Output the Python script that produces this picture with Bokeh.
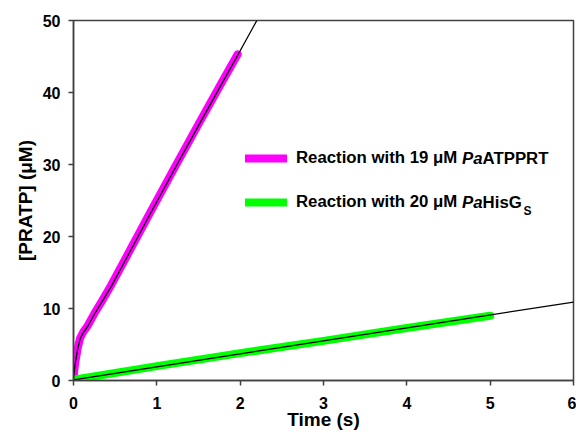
from bokeh.plotting import figure
from bokeh.models import Legend, LegendItem, Label, Range1d
from bokeh.embed import file_html
from bokeh.resources import INLINE

# ---- data ----
MAG_T = [0, 0.01, 0.02, 0.03, 0.05, 0.08, 0.12, 0.17, 0.25, 0.35, 0.45, 0.65, 0.9, 1.2, 1.5, 1.75, 1.97]
MAG_Y = [0, 1.5, 2.4, 3.1, 4.5, 5.9, 6.8, 7.6, 9.3, 11.2, 13.2, 17.5, 22.9, 29.3, 35.6, 40.8, 45.3]
MAG_FIT_T = [0, 0.01, 0.02, 0.03, 0.05, 0.08, 0.12, 0.17, 0.25, 0.35, 0.45, 0.65, 0.9, 1.2, 1.5, 1.75, 2.0, 2.2]
MAG_FIT_Y = [0, 1.4, 2.3, 3.0, 4.4, 5.8, 6.7, 7.5, 9.2, 11.1, 13.0, 17.3, 22.7, 29.1, 35.4, 40.6, 45.8, 50.0]
GRN_T = [0, 1, 2, 3, 4, 5]
GRN_Y = [0.1, 2.0, 3.8, 5.5, 7.3, 9.0]
GRN_FIT_T = [0, 6]
GRN_FIT_Y = [0.1, 10.9]
X_TICKS = [0, 1, 2, 3, 4, 5, 6]
Y_TICKS = [0, 10, 20, 30, 40, 50]
LEG1 = ["Reaction with 19 \u03bcM ", "Pa", "ATPPRT"]
LEG2 = ["Reaction with 20 \u03bcM ", "Pa", "HisG", "S"]

FONT = "Liberation Sans"
AX = "#404040"

p = figure(width=576, height=433, x_range=Range1d(0, 6), y_range=Range1d(0, 50),
           output_backend="svg", toolbar_location=None,
           min_border_left=73, min_border_right=3, min_border_top=20, min_border_bottom=53)
p.grid.visible = False
p.outline_line_color = AX
p.outline_line_width = 1.5
p.background_fill_color = "white"
p.border_fill_color = "white"

for ax in (p.xaxis, p.yaxis):
    ax.axis_line_color = AX
    ax.axis_line_width = 1.5
    ax.major_tick_line_color = AX
    ax.major_tick_line_width = 1.5
    ax.major_tick_in = 0
    ax.major_tick_out = 5
    ax.minor_tick_line_color = None
    ax.major_label_text_font = FONT
    ax.major_label_text_font_style = "bold"
    ax.major_label_text_font_size = "16px"
    ax.major_label_text_color = "black"
    ax.axis_label_text_font = FONT
    ax.axis_label_text_font_style = "bold"
    ax.axis_label_text_font_size = "19px"
    ax.axis_label_text_color = "black"

p.xaxis.ticker = X_TICKS
p.yaxis.ticker = Y_TICKS
p.xaxis.major_label_standoff = 11
p.yaxis.major_label_standoff = 8
p.xaxis.axis_label = "Time (s)"
p.yaxis.axis_label = "[PRATP] (\u03bcM)"
p.xaxis.axis_label_standoff = -3
p.yaxis.axis_label_standoff = 4

mag = p.line(MAG_T, MAG_Y, line_color="#FF00FF", line_width=8, line_cap="round", line_join="round")
grn = p.line(GRN_T, GRN_Y, line_color="#00FF00", line_width=8, line_cap="round", line_join="round")
p.line(MAG_FIT_T, MAG_FIT_Y, line_color="black", line_width=1.3)
p.line(GRN_FIT_T, GRN_FIT_Y, line_color="black", line_width=1.3)

legend = Legend(items=[LegendItem(label=LEG1[0], renderers=[mag]),
                       LegendItem(label=LEG2[0], renderers=[grn])],
                location=(172, 168), glyph_width=42, glyph_height=20, label_height=20,
                label_standoff=9, spacing=24, padding=0, margin=0,
                border_line_alpha=0, background_fill_alpha=0,
                label_text_font=FONT, label_text_font_style="bold",
                label_text_font_size="16.8px", label_text_color="black")
p.add_layout(legend)

# pixel helpers for the rich-text parts of the legend labels
FL, FW, FT, FH = 73, 500, 20, 360
def dx(px):
    return (px - FL) / FW * 6
def dy(py):
    return (FT + FH - py) / FH * 50

TX0 = 296
ROW1, ROW2 = 158, 202
def lab(text, px, py, style="bold", size="16.8px"):
    p.add_layout(Label(x=dx(px), y=dy(py), text=text, text_font=FONT, text_font_style=style,
                       text_font_size=size, text_baseline="middle", text_align="left",
                       text_color="black"))

lab(LEG1[1], TX0 + 165.6, ROW1, "bold italic")
lab(LEG1[2], TX0 + 186.1, ROW1)
lab(LEG2[1], TX0 + 165.6, ROW2, "bold italic")
lab(LEG2[2], TX0 + 186.1, ROW2)
lab(LEG2[3], TX0 + 227.0, ROW2 + 8, "bold", "12px")

open("out.html", "w").write(file_html(p, INLINE))
